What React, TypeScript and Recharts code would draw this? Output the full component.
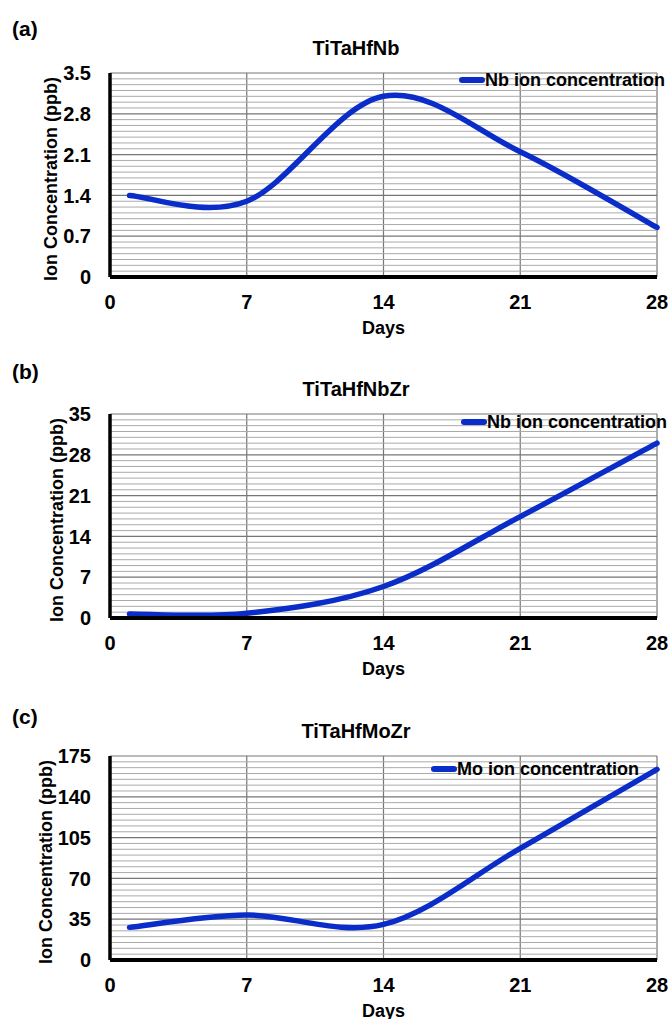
import {
  CartesianGrid,
  Legend,
  Line,
  LineChart,
  ReferenceLine,
  XAxis,
  YAxis,
} from 'recharts';

const days = [1, 7, 14, 21, 28];
const nbInTiTaHfNb = [1.4, 1.3, 3.1, 2.15, 0.85];
const nbInTiTaHfNbZr = [0.7, 0.8, 5.4, 17.4, 30.0];
const moInTiTaHfMoZr = [28, 38.6, 30.5, 95.8, 163.6];

const dayTicks = [0, 7, 14, 21, 28];
const ticksA = [0, 0.7, 1.4, 2.1, 2.8, 3.5];
const ticksB = [0, 7, 14, 21, 28, 35];
const ticksC = [0, 35, 70, 105, 140, 175];

const FONT = '"Liberation Sans", Arial, sans-serif';
const BLUE = '#0a2cc8';

const tickStyle = { fill: '#000', fontSize: 20, fontWeight: 700, fontFamily: FONT };

// spreadsheet-style smoothed line: Catmull-Rom segments as cubic beziers
function smoothCurve(context: any) {
  let pts: [number, number][] = [];
  return {
    areaStart() {},
    areaEnd() {},
    lineStart() {
      pts = [];
    },
    point(x: number, y: number) {
      pts.push([+x, +y]);
    },
    lineEnd() {
      const n = pts.length;
      if (!n) return;
      context.moveTo(pts[0][0], pts[0][1]);
      for (let i = 0; i < n - 1; i++) {
        const p0 = pts[Math.max(i - 1, 0)];
        const p1 = pts[i];
        const p2 = pts[i + 1];
        const p3 = pts[Math.min(i + 2, n - 1)];
        context.bezierCurveTo(
          p1[0] + (p2[0] - p0[0]) / 6,
          p1[1] + (p2[1] - p0[1]) / 6,
          p2[0] - (p3[0] - p1[0]) / 6,
          p2[1] - (p3[1] - p1[1]) / 6,
          p2[0],
          p2[1],
        );
      }
    },
  };
}

function SeriesKey({ payload }: { payload?: { value: string; color: string }[] }) {
  const item = payload?.[0];
  if (!item) return null;
  return (
    <div
      style={{
        display: 'flex',
        alignItems: 'center',
        fontFamily: FONT,
        fontWeight: 700,
        fontSize: 18,
        lineHeight: '20px',
        whiteSpace: 'nowrap',
        color: '#000',
      }}
    >
      <span
        style={{ width: 26, height: 6, borderRadius: 3, background: item.color, display: 'inline-block' }}
      />
      <span>{item.value}</span>
    </div>
  );
}

function YTitle({ viewBox, labelX }: { viewBox?: any; labelX: number }) {
  if (!viewBox) return null;
  const x = labelX;
  const y = viewBox.y + viewBox.height / 2 + 4;
  return (
    <text
      x={x}
      y={y}
      transform={`rotate(-90 ${x} ${y})`}
      textAnchor="middle"
      dominantBaseline="central"
      style={{ fontFamily: FONT, fontWeight: 700, fontSize: 18, fill: '#000' }}
    >
      Ion Concentration (ppb)
    </text>
  );
}

type PanelProps = {
  top: number;
  letter: string;
  letterTop: number;
  title: string;
  name: string;
  values: number[];
  yTicks: number[];
  yLabelX: number;
  legendLeft: number;
  legendTop: number;
};

function Panel({ top, letter, letterTop, title, name, values, yTicks, yLabelX, legendLeft, legendTop }: PanelProps) {
  const data = days.map((day, i) => ({ day, value: values[i] }));
  const step = yTicks[1] / 7;
  const minor: number[] = [];
  for (let k = 1; k < 35; k++) if (k % 7 !== 0) minor.push(k * step);

  return (
    <div style={{ position: 'absolute', left: 0, top, width: 669, height: 340 }}>
      <div
        style={{
          position: 'absolute',
          left: 12,
          top: letterTop - 13,
          fontFamily: FONT,
          fontWeight: 700,
          fontSize: 21,
          lineHeight: '26px',
        }}
      >
        {letter}
      </div>
      <div
        style={{
          position: 'absolute',
          left: 0,
          width: 712,
          top: 36,
          textAlign: 'center',
          fontFamily: FONT,
          fontWeight: 700,
          fontSize: 20,
          lineHeight: '24px',
        }}
      >
        {title}
      </div>
      <LineChart width={669} height={340} data={data} margin={{ top: 73, right: 12, left: 0, bottom: 0 }}>
        <CartesianGrid stroke="#767676" strokeWidth={1.2} />
        {minor.map((v) => (
          <ReferenceLine key={v} y={v} stroke="#aaaaaa" strokeWidth={1} />
        ))}
        <XAxis
          type="number"
          dataKey="day"
          domain={[0, 28]}
          ticks={dayTicks}
          interval={0}
          tickSize={0}
          tickMargin={18}
          height={63}
          tick={tickStyle}
          axisLine={{ stroke: '#000', strokeWidth: 4 }}
          label={{
            value: 'Days',
            position: 'insideBottom',
            offset: 6,
            style: { fontFamily: FONT, fontWeight: 700, fontSize: 18, fill: '#000' },
          }}
        />
        <YAxis
          type="number"
          domain={[0, yTicks[yTicks.length - 1]]}
          ticks={yTicks}
          interval={0}
          width={110}
          tickSize={0}
          tickMargin={19}
          tick={tickStyle}
          axisLine={{ stroke: '#000', strokeWidth: 3.5 }}
          label={<YTitle labelX={yLabelX} />}
        />
        <Legend
          layout="horizontal"
          verticalAlign="middle"
          align="center"
          content={<SeriesKey />}
          wrapperStyle={{ left: legendLeft, top: legendTop, width: 'auto' }}
        />
        <Line
          type={smoothCurve as any}
          dataKey="value"
          name={name}
          stroke={BLUE}
          strokeWidth={5.5}
          strokeLinecap="round"
          dot={false}
          activeDot={false}
          isAnimationActive={false}
        />
      </LineChart>
    </div>
  );
}

export default function App() {
  return (
    <div style={{ position: 'absolute', left: 0, top: 0, width: 669, height: 1019, background: '#fff' }}>
      <Panel
        top={0}
        letter="(a)"
        letterTop={29}
        title="TiTaHfNb"
        name="Nb ion concentration"
        values={nbInTiTaHfNb}
        yTicks={ticksA}
        yLabelX={51}
        legendLeft={459}
        legendTop={70}
      />
      <Panel
        top={341}
        letter="(b)"
        letterTop={31}
        title="TiTaHfNbZr"
        name="Nb ion concentration"
        values={nbInTiTaHfNbZr}
        yTicks={ticksB}
        yLabelX={57}
        legendLeft={461}
        legendTop={71}
      />
      <Panel
        top={683}
        letter="(c)"
        letterTop={34}
        title="TiTaHfMoZr"
        name="Mo ion concentration"
        values={moInTiTaHfMoZr}
        yTicks={ticksC}
        yLabelX={46}
        legendLeft={431}
        legendTop={76}
      />
    </div>
  );
}
